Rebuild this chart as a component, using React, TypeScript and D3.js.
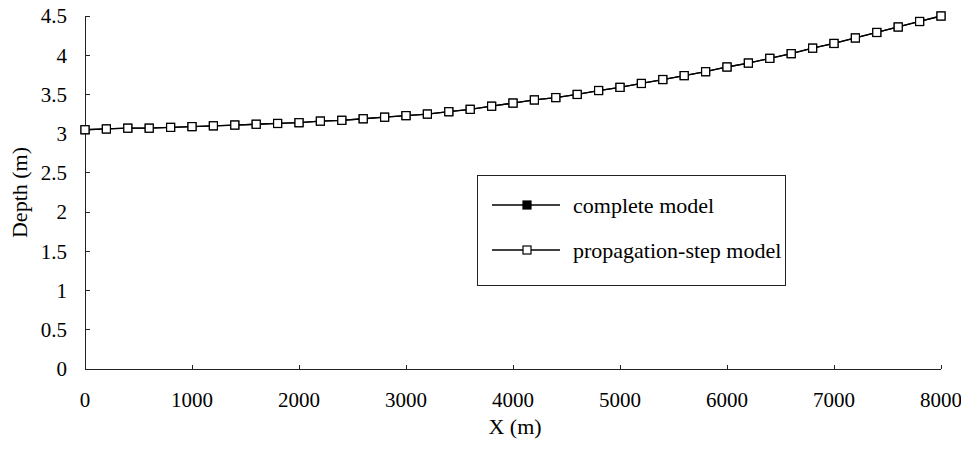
import React, { useRef, useEffect } from 'react';
import * as d3 from 'd3';

// tamanho fixo da figura
const width = 969;
const height = 453;
const margin = { left: 85, right: 28, top: 16, bottom: 84 };

// dados (X em m, profundidade em m)
const xValues = [
  0, 200, 400, 600, 800, 1000, 1200, 1400, 1600, 1800, 2000, 2200, 2400, 2600,
  2800, 3000, 3200, 3400, 3600, 3800, 4000, 4200, 4400, 4600, 4800, 5000, 5200,
  5400, 5600, 5800, 6000, 6200, 6400, 6600, 6800, 7000, 7200, 7400, 7600, 7800, 8000,
];
const completeModel = [
  3.05, 3.06, 3.07, 3.07, 3.08, 3.09, 3.10, 3.11, 3.12, 3.13, 3.14, 3.16, 3.17, 3.19,
  3.21, 3.23, 3.25, 3.28, 3.31, 3.35, 3.39, 3.43, 3.46, 3.50, 3.55, 3.59, 3.64,
  3.69, 3.74, 3.79, 3.85, 3.90, 3.96, 4.02, 4.09, 4.15, 4.22, 4.29, 4.36, 4.43, 4.50,
];
const propagationStepModel = [
  3.05, 3.06, 3.07, 3.07, 3.08, 3.09, 3.10, 3.11, 3.12, 3.13, 3.14, 3.16, 3.17, 3.19,
  3.21, 3.23, 3.25, 3.28, 3.31, 3.35, 3.39, 3.43, 3.46, 3.50, 3.55, 3.59, 3.64,
  3.69, 3.74, 3.79, 3.85, 3.90, 3.96, 4.02, 4.09, 4.15, 4.22, 4.29, 4.36, 4.43, 4.50,
];
const xTicks = [0, 1000, 2000, 3000, 4000, 5000, 6000, 7000, 8000];
const yTicks = [0, 0.5, 1, 1.5, 2, 2.5, 3, 3.5, 4, 4.5];
const seriesNames = ['complete model', 'propagation-step model'];

const font = '"Liberation Serif", "Times New Roman", serif';

export default function App() {
  const svgRef = useRef<SVGSVGElement | null>(null);

  useEffect(() => {
    if (!svgRef.current) return;
    const svg = d3.select(svgRef.current);
    svg.selectAll('*').remove();

    const x = d3.scaleLinear().domain([0, 8000]).range([margin.left, width - margin.right]);
    const y = d3.scaleLinear().domain([0, 4.5]).range([height - margin.bottom, margin.top]);
    const x0 = x(0);
    const y0 = y(0);

    // eixos
    const axes = svg.append('g').attr('stroke', '#222').attr('stroke-width', 1).attr('shape-rendering', 'crispEdges');
    axes.append('line').attr('x1', x0).attr('x2', x0).attr('y1', y(4.5)).attr('y2', y0);
    axes.append('line').attr('x1', x0).attr('x2', x(8000)).attr('y1', y0).attr('y2', y0);

    axes.selectAll('.yt')
      .data(yTicks)
      .enter()
      .append('line')
      .attr('x1', x0)
      .attr('x2', x0 + 5)
      .attr('y1', d => y(d))
      .attr('y2', d => y(d));

    axes.selectAll('.xt')
      .data(xTicks.slice(1))
      .enter()
      .append('line')
      .attr('x1', d => x(d))
      .attr('x2', d => x(d))
      .attr('y1', y0)
      .attr('y2', y0 - 4);

    // rótulos dos ticks
    svg.selectAll('.ylab')
      .data(yTicks)
      .enter()
      .append('text')
      .attr('x', x0 - 18)
      .attr('y', d => y(d))
      .attr('dy', '0.35em')
      .attr('text-anchor', 'end')
      .style('font-family', font)
      .style('font-size', '21px')
      .text(d => String(d));

    svg.selectAll('.xlab')
      .data(xTicks)
      .enter()
      .append('text')
      .attr('x', d => x(d))
      .attr('y', y0 + 38)
      .attr('text-anchor', 'middle')
      .style('font-family', font)
      .style('font-size', '21px')
      .text(d => String(d));

    // títulos dos eixos
    svg.append('text')
      .attr('x', (x0 + x(8000)) / 2 + 2)
      .attr('y', y0 + 65)
      .attr('text-anchor', 'middle')
      .style('font-family', font)
      .style('font-size', '22px')
      .text('X (m)');

    svg.append('text')
      .attr('transform', `translate(27, ${(y(4.5) + y0) / 2}) rotate(-90)`)
      .attr('text-anchor', 'middle')
      .style('font-family', font)
      .style('font-size', '22px')
      .text('Depth (m)');

    // séries
    const line = d3.line<number>()
      .x((_, i) => x(xValues[i]))
      .y(d => y(d));

    const series = [
      { name: seriesNames[0], values: completeModel, fill: '#000' },
      { name: seriesNames[1], values: propagationStepModel, fill: '#fff' },
    ];

    const size = 8;
    series.forEach(s => {
      svg.append('path')
        .attr('d', line(s.values))
        .attr('fill', 'none')
        .attr('stroke', '#000')
        .attr('stroke-width', 1.3);
      svg.selectAll(null)
        .data(s.values)
        .enter()
        .append('rect')
        .attr('x', (_, i) => x(xValues[i]) - size / 2)
        .attr('y', d => y(d) - size / 2)
        .attr('width', size)
        .attr('height', size)
        .attr('fill', s.fill)
        .attr('stroke', '#000')
        .attr('stroke-width', 1.2);
    });

    // legenda
    const lg = svg.append('g');
    lg.append('rect')
      .attr('x', 477.5)
      .attr('y', 175.5)
      .attr('width', 308)
      .attr('height', 110)
      .attr('fill', '#fff')
      .attr('stroke', '#222')
      .attr('stroke-width', 1);

    series.forEach((s, i) => {
      const ly = 205 + i * 45;
      lg.append('line')
        .attr('x1', 492)
        .attr('x2', 560)
        .attr('y1', ly)
        .attr('y2', ly)
        .attr('stroke', '#000')
        .attr('stroke-width', 1.3);
      lg.append('rect')
        .attr('x', 527 - size / 2)
        .attr('y', ly - size / 2)
        .attr('width', size)
        .attr('height', size)
        .attr('fill', s.fill)
        .attr('stroke', '#000')
        .attr('stroke-width', 1.2);
      lg.append('text')
        .attr('x', 573)
        .attr('y', ly)
        .attr('dy', '0.35em')
        .style('font-family', font)
        .style('font-size', '22px')
        .text(s.name);
    });
  }, []);

  return (
    <div style={{ margin: '-8px' }}>
      <svg ref={svgRef} width={width} height={height} style={{ display: 'block', background: '#fff' }}></svg>
    </div>
  );
}
